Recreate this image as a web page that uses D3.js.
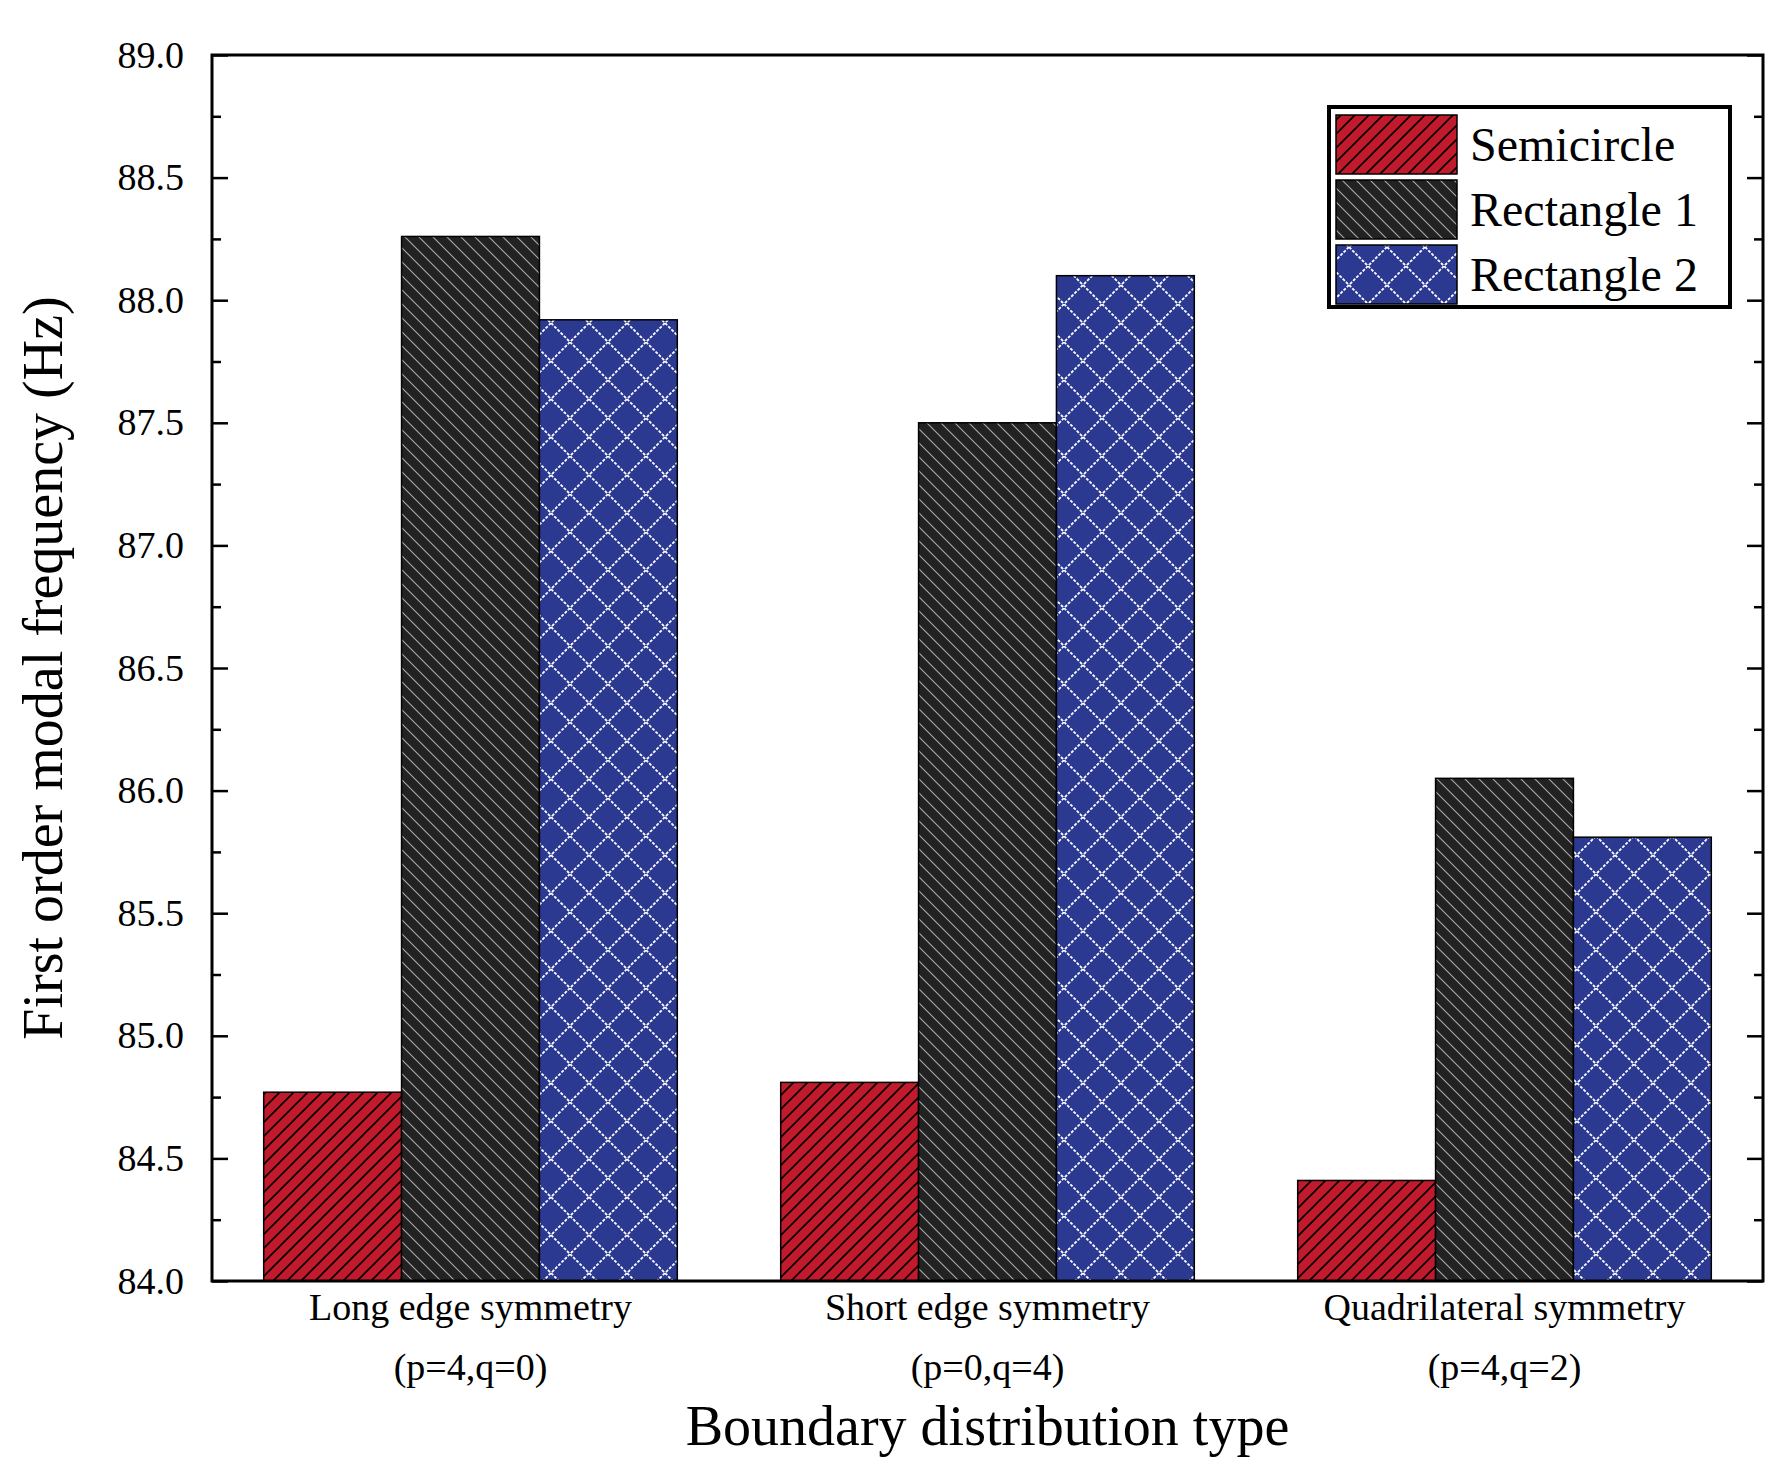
<!DOCTYPE html>
<html><head><meta charset="utf-8">
<script src="https://cdn.jsdelivr.net/npm/d3@7"></script>
<style>body{margin:0;background:#fff}</style></head>
<body><svg id="c" width="1784" height="1465"></svg>
<script>
const categories = ["Long edge symmetry|(p=4,q=0)", "Short edge symmetry|(p=0,q=4)", "Quadrilateral symmetry|(p=4,q=2)"];
const seriesNames = ["Semicircle", "Rectangle 1", "Rectangle 2"];
const semicircle = [84.77, 84.81, 84.41];
const rectangle1 = [88.26, 87.50, 86.05];
const rectangle2 = [87.92, 88.10, 85.81];
const yTicks = [84.0, 84.5, 85.0, 85.5, 86.0, 86.5, 87.0, 87.5, 88.0, 88.5, 89.0];
const series = [semicircle, rectangle1, rectangle2];

const svg = d3.select("#c");
const m = {l:212, r:1763, t:55, b:1281};
const font = "'Liberation Serif','Times New Roman',serif";
const defs = svg.append("defs");
function pat(id, bg, draw){
  const p = defs.append("pattern").attr("id", id).attr("patternUnits","userSpaceOnUse").attr("width",14).attr("height",14);
  p.append("rect").attr("width",14).attr("height",14).attr("fill",bg);
  draw(p);
}
pat("p0","#c01a2c",p=>{p.append("path").attr("d","M-2,2 L2,-2 M0,14 L14,0 M12,16 L16,12").attr("stroke","#000").attr("stroke-width",1.6);});
pat("p1","#222222",p=>{p.append("path").attr("d","M-2,12 L2,16 M0,0 L14,14 M12,-2 L16,2").attr("stroke","#aaa").attr("stroke-width",1.1);});
defs.append("pattern").attr("id","p2").attr("patternUnits","userSpaceOnUse").attr("width",38).attr("height",38)
  .call(p=>{p.append("rect").attr("width",38).attr("height",38).attr("fill","#2b3990");
    p.append("path").attr("d","M0,0 L38,38 M38,0 L0,38").attr("stroke","#fff").attr("stroke-width",1.8).attr("stroke-dasharray","3,1.5");});
const fills = ["url(#p0)","url(#p1)","url(#p2)"];

const x = d3.scaleBand().domain(categories).range([m.l,m.r]).paddingInner(0.2).paddingOuter(0.1);
const xs = d3.scaleBand().domain([0,1,2]).range([0,x.bandwidth()]);
const y = d3.scaleLinear().domain([84,89]).range([m.b,m.t]);

categories.forEach((c,i)=>{
  series.forEach((s,j)=>{
    svg.append("rect").attr("x",x(c)+xs(j)).attr("y",y(s[i])).attr("width",xs.bandwidth()).attr("height",y(84)-y(s[i]))
      .attr("fill",fills[j]).attr("stroke","#000").attr("stroke-width",1.5);
  });
});

// frame
svg.append("rect").attr("x",m.l).attr("y",m.t).attr("width",m.r-m.l).attr("height",m.b-m.t).attr("fill","none").attr("stroke","#000").attr("stroke-width",3);
const minor = d3.range(84.25,89,0.5);
const gL = svg.append("g").attr("transform",`translate(${m.l},0)`)
  .call(d3.axisLeft(y).tickValues(yTicks).tickFormat(d3.format(".1f")).tickSizeInner(-16).tickSizeOuter(0).tickPadding(28));
const gR = svg.append("g").attr("transform",`translate(${m.r},0)`)
  .call(d3.axisRight(y).tickValues(yTicks).tickFormat("").tickSizeInner(-16).tickSizeOuter(0));
svg.append("g").attr("transform",`translate(${m.l},0)`).call(d3.axisLeft(y).tickValues(minor).tickFormat("").tickSizeInner(-9).tickSizeOuter(0));
svg.append("g").attr("transform",`translate(${m.r},0)`).call(d3.axisRight(y).tickValues(minor).tickFormat("").tickSizeInner(-9).tickSizeOuter(0));
svg.selectAll(".domain").remove();
svg.selectAll(".tick line").attr("stroke","#000").attr("stroke-width",2.5);
gL.selectAll("text").attr("font-family",font).attr("font-size",38).attr("fill","#000");

categories.forEach(c=>{
  const [a,b] = c.split("|");
  const cx = x(c)+x.bandwidth()/2;
  svg.append("text").attr("x",cx).attr("y",1320).attr("text-anchor","middle").attr("font-family",font).attr("font-size",38).text(a);
  svg.append("text").attr("x",cx).attr("y",1380).attr("text-anchor","middle").attr("font-family",font).attr("font-size",38).text(b);
});
svg.append("text").attr("x",(m.l+m.r)/2).attr("y",1445).attr("text-anchor","middle").attr("font-family",font).attr("font-size",56).text("Boundary distribution type");
svg.append("text").attr("transform",`translate(62,${(m.t+m.b)/2}) rotate(-90)`).attr("text-anchor","middle").attr("font-family",font).attr("font-size",56).text("First order modal frequency (Hz)");

// legend
const lg = svg.append("g");
lg.append("rect").attr("x",1329).attr("y",107).attr("width",401).attr("height",200).attr("fill","#fff").attr("stroke","#000").attr("stroke-width",4);
seriesNames.forEach((n,j)=>{
  const yy = 115+j*65;
  lg.append("rect").attr("x",1336).attr("y",yy).attr("width",121).attr("height",59).attr("fill",fills[j]).attr("stroke","#000").attr("stroke-width",1.5);
  lg.append("text").attr("x",1470).attr("y",yy+46).attr("font-family",font).attr("font-size",48).text(n);
});
</script></body></html>
